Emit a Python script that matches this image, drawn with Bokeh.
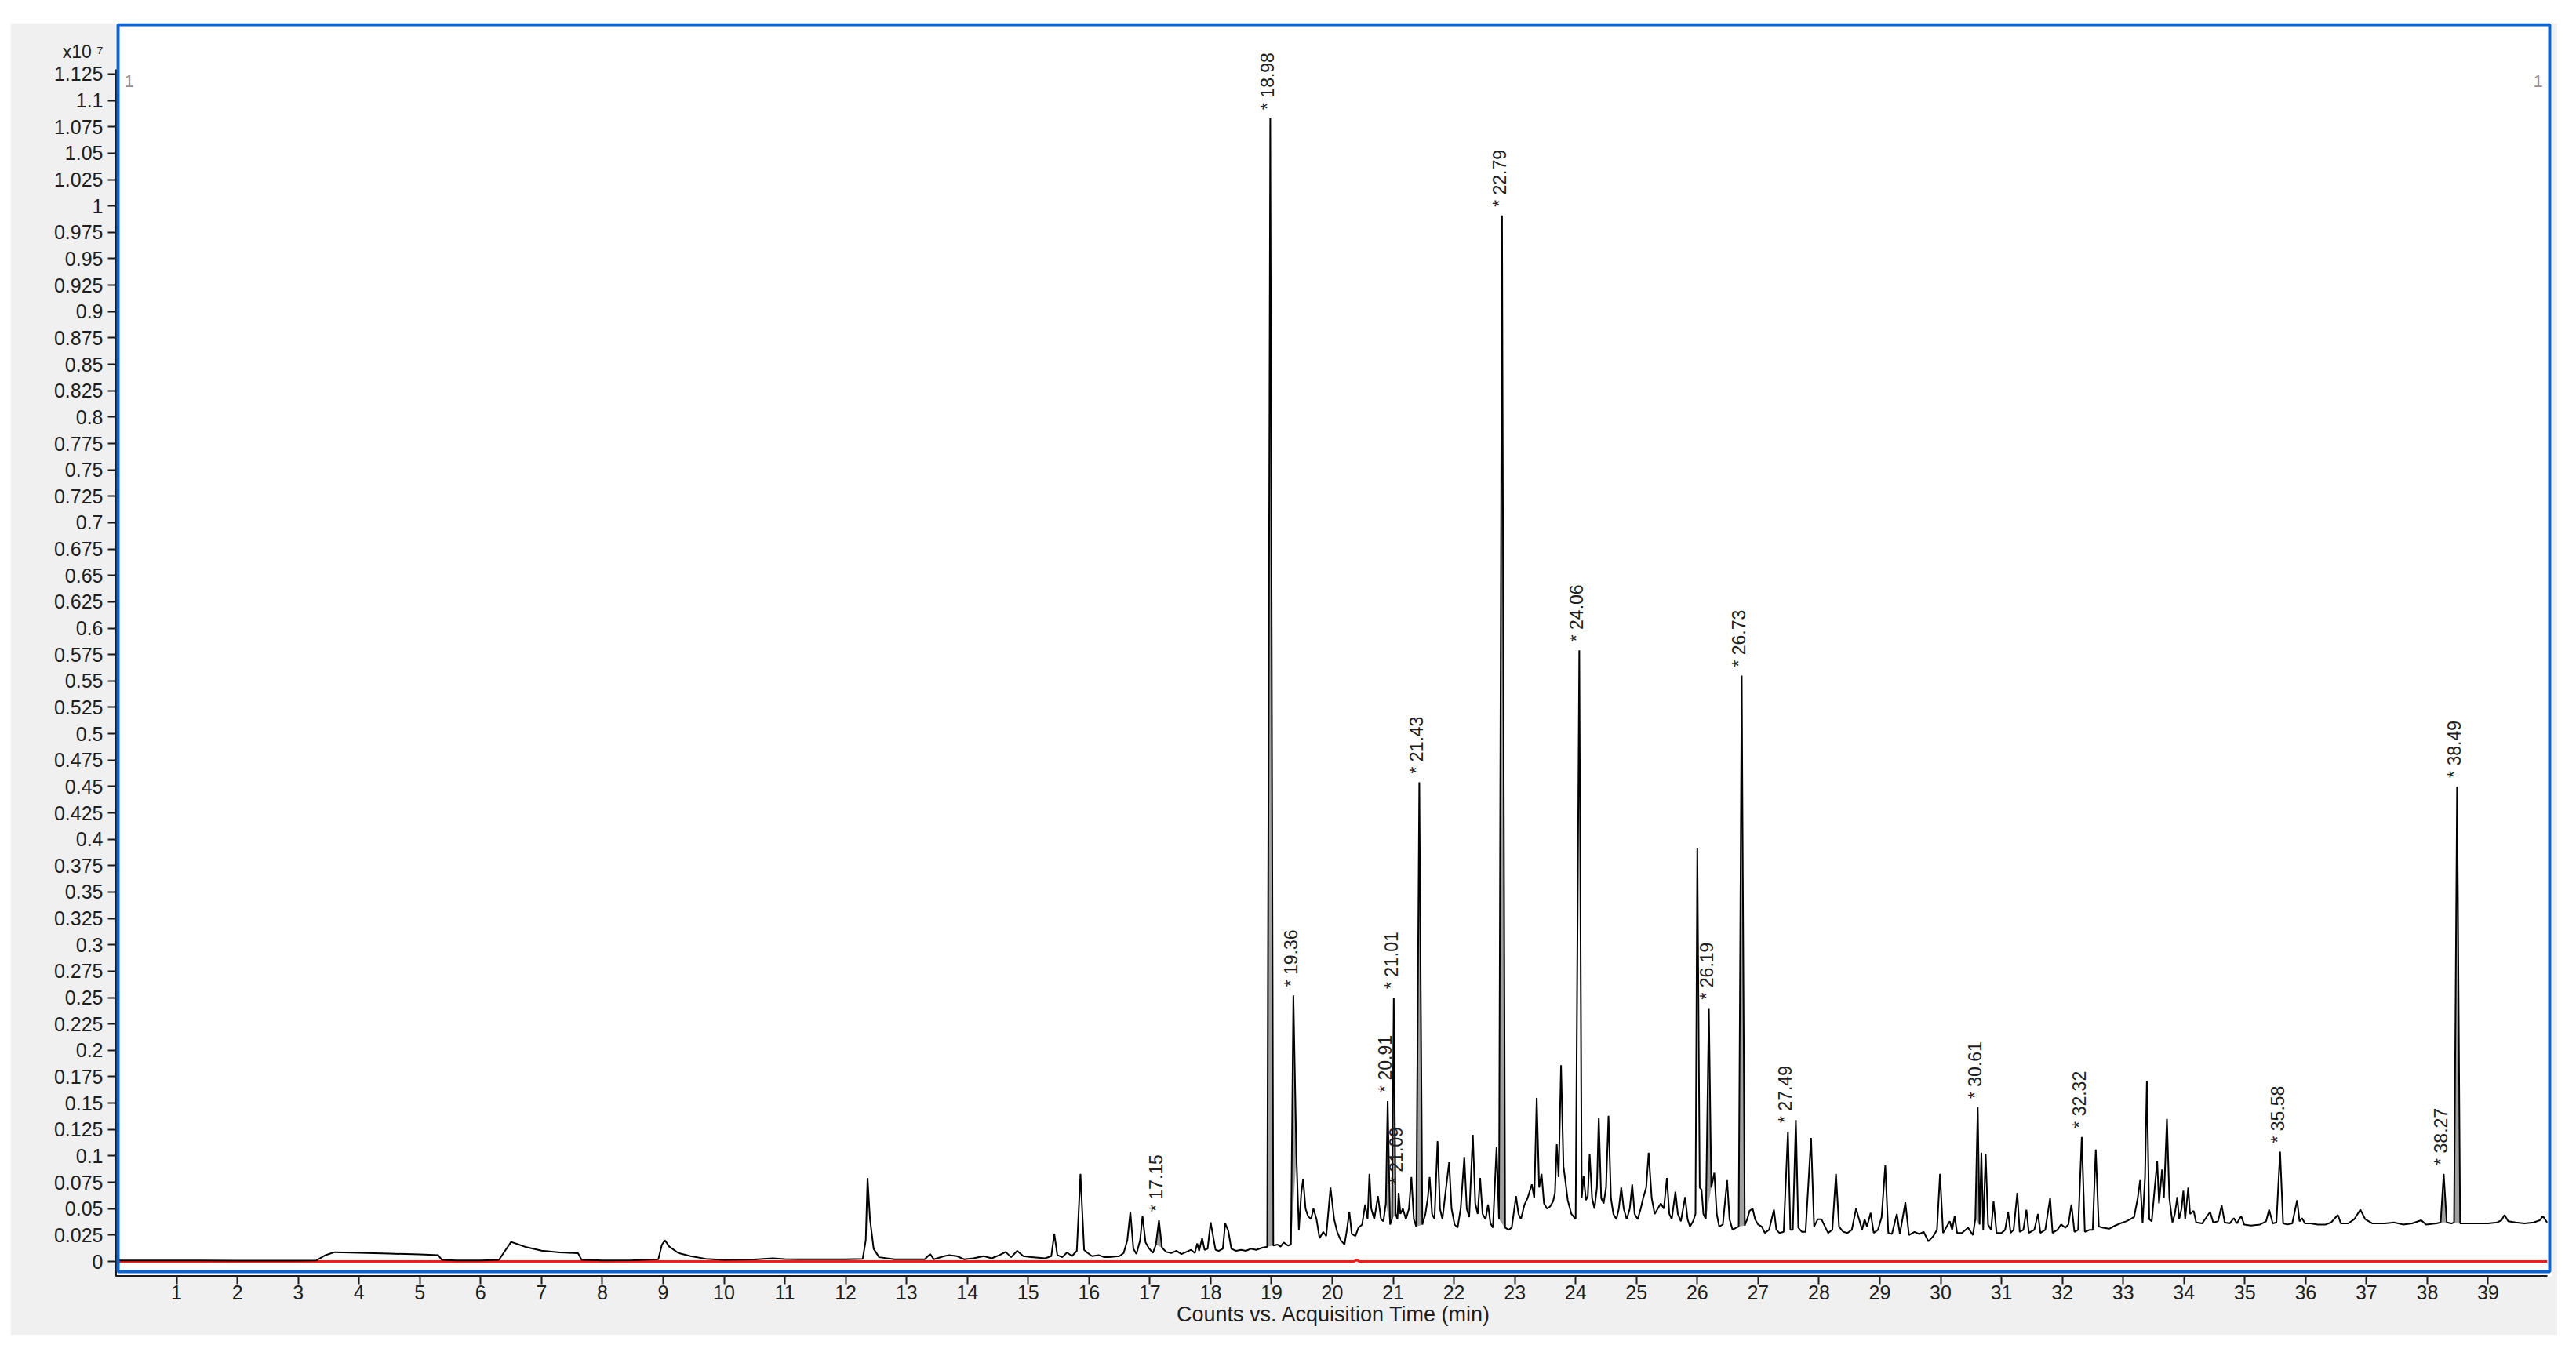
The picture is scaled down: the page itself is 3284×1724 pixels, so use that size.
import math
from bokeh.plotting import figure
from bokeh.models import ColumnDataSource, FixedTicker, Range1d, Label, BoxAnnotation
from bokeh.core.properties import value
from bokeh.embed import file_html
from bokeh.resources import INLINE

# ---------------- data (counts in units of 10^7) ----------------
time_min = [
    0.00, 1.00, 2.00, 3.00, 3.30, 3.45, 3.60, 4.00, 4.50, 5.00,
    5.30, 5.36, 5.60, 6.00, 6.30, 6.40, 6.50, 6.60, 6.75, 7.00,
    7.30, 7.60, 7.66, 8.00, 8.50, 8.92, 8.98, 9.03, 9.10, 9.25,
    9.45, 9.70, 10.00, 10.50, 10.80, 11.00, 11.50, 12.00, 12.28, 12.33,
    12.36, 12.40, 12.46, 12.55, 12.80, 13.30, 13.39, 13.45, 13.62, 13.70,
    13.83, 13.95, 14.10, 14.27, 14.40, 14.53, 14.63, 14.72, 14.82, 14.92,
    15.05, 15.28, 15.38, 15.43, 15.48, 15.56, 15.64, 15.72, 15.80, 15.86,
    15.92, 15.98, 16.05, 16.16, 16.25, 16.33, 16.50, 16.57, 16.63, 16.68,
    16.73, 16.78, 16.84, 16.88, 16.93, 16.98, 17.05, 17.10, 17.15, 17.20,
    17.27, 17.35, 17.44, 17.52, 17.60, 17.68, 17.74, 17.78, 17.81, 17.86,
    17.90, 17.95, 18.00, 18.04, 18.08, 18.13, 18.20, 18.24, 18.29, 18.34,
    18.42, 18.50, 18.58, 18.66, 18.75, 18.85, 18.93, 18.98, 19.03, 19.10,
    19.15, 19.20, 19.27, 19.32, 19.36, 19.41, 19.45, 19.49, 19.52, 19.56,
    19.60, 19.65, 19.69, 19.74, 19.79, 19.85, 19.90, 19.97, 20.03, 20.08,
    20.14, 20.20, 20.24, 20.28, 20.32, 20.38, 20.43, 20.49, 20.54, 20.58,
    20.61, 20.64, 20.69, 20.75, 20.80, 20.84, 20.88, 20.91, 20.95, 20.98,
    21.01, 21.04, 21.07, 21.09, 21.12, 21.16, 21.21, 21.26, 21.30, 21.34,
    21.38, 21.43, 21.48, 21.53, 21.57, 21.60, 21.64, 21.68, 21.73, 21.77,
    21.81, 21.86, 21.92, 21.96, 22.01, 22.06, 22.11, 22.17, 22.21, 22.25,
    22.31, 22.35, 22.39, 22.43, 22.47, 22.52, 22.56, 22.60, 22.64, 22.70,
    22.74, 22.79, 22.84, 22.90, 22.95, 23.02, 23.06, 23.10, 23.16, 23.21,
    23.28, 23.32, 23.36, 23.40, 23.44, 23.48, 23.53, 23.58, 23.63, 23.66,
    23.69, 23.72, 23.76, 23.80, 23.83, 23.87, 23.93, 24.00, 24.06, 24.10,
    24.13, 24.17, 24.20, 24.23, 24.27, 24.31, 24.35, 24.38, 24.42, 24.46,
    24.50, 24.54, 24.58, 24.62, 24.67, 24.71, 24.75, 24.79, 24.84, 24.89,
    24.93, 24.97, 25.02, 25.07, 25.11, 25.16, 25.20, 25.25, 25.30, 25.35,
    25.40, 25.45, 25.50, 25.54, 25.58, 25.64, 25.68, 25.73, 25.80, 25.84,
    25.88, 25.93, 25.97, 26.00, 26.04, 26.07, 26.10, 26.14, 26.19, 26.23,
    26.28, 26.32, 26.36, 26.42, 26.49, 26.53, 26.58, 26.64, 26.68, 26.73,
    26.78, 26.82, 26.86, 26.91, 26.95, 27.00, 27.06, 27.11, 27.18, 27.26,
    27.30, 27.35, 27.42, 27.49, 27.53, 27.57, 27.62, 27.66, 27.72, 27.78,
    27.87, 27.92, 27.98, 28.04, 28.10, 28.15, 28.22, 28.28, 28.33, 28.40,
    28.47, 28.54, 28.61, 28.66, 28.71, 28.75, 28.79, 28.85, 28.90, 28.97,
    29.03, 29.09, 29.14, 29.20, 29.28, 29.33, 29.42, 29.48, 29.57, 29.65,
    29.72, 29.80, 29.88, 29.94, 29.99, 30.04, 30.10, 30.15, 30.19, 30.23,
    30.27, 30.35, 30.45, 30.53, 30.57, 30.61, 30.64, 30.67, 30.70, 30.74,
    30.78, 30.83, 30.87, 30.92, 31.00, 31.06, 31.11, 31.15, 31.20, 31.26,
    31.30, 31.36, 31.41, 31.45, 31.54, 31.60, 31.64, 31.72, 31.80, 31.84,
    31.92, 31.98, 32.05, 32.10, 32.15, 32.20, 32.26, 32.32, 32.37, 32.45,
    32.50, 32.55, 32.60, 32.67, 32.77, 32.87, 32.95, 33.05, 33.12, 33.18,
    33.24, 33.28, 33.32, 33.36, 33.39, 33.43, 33.47, 33.52, 33.56, 33.59,
    33.64, 33.67, 33.72, 33.76, 33.81, 33.85, 33.89, 33.92, 33.96, 33.99,
    34.02, 34.07, 34.10, 34.16, 34.20, 34.30, 34.43, 34.48, 34.56, 34.62,
    34.67, 34.75, 34.82, 34.87, 34.94, 34.99, 35.10, 35.25, 35.35, 35.40,
    35.46, 35.52, 35.58, 35.63, 35.70, 35.78, 35.86, 35.90, 35.94, 35.99,
    36.08, 36.20, 36.33, 36.42, 36.53, 36.58, 36.70, 36.80, 36.90, 36.98,
    37.10, 37.30, 37.45, 37.60, 37.75, 37.90, 37.98, 38.15, 38.22, 38.27,
    38.32, 38.40, 38.44, 38.49, 38.54, 38.65, 38.80, 39.00, 39.15, 39.22,
    39.27, 39.33, 39.45, 39.60, 39.75, 39.85, 39.90, 39.97,
]
counts_e7 = [
    0.001, 0.001, 0.0008, 0.0008, 0.001, 0.006, 0.0088, 0.0082, 0.0074, 0.0066,
    0.0060, 0.0015, 0.001, 0.001, 0.0015, 0.010, 0.0185, 0.0165, 0.0135, 0.0102,
    0.0085, 0.0078, 0.0015, 0.001, 0.0012, 0.002, 0.016, 0.020, 0.014, 0.008,
    0.005, 0.0025, 0.0015, 0.0018, 0.003, 0.0022, 0.002, 0.002, 0.0025, 0.020,
    0.079, 0.040, 0.012, 0.004, 0.002, 0.002, 0.007, 0.002, 0.005, 0.006,
    0.005, 0.002, 0.003, 0.005, 0.003, 0.006, 0.009, 0.004, 0.010, 0.005,
    0.004, 0.003, 0.005, 0.026, 0.006, 0.004, 0.0086, 0.005, 0.010, 0.083,
    0.011, 0.008, 0.005, 0.006, 0.004, 0.004, 0.005, 0.008, 0.020, 0.047,
    0.012, 0.007, 0.020, 0.043, 0.018, 0.013, 0.008, 0.016, 0.039, 0.013,
    0.009, 0.008, 0.010, 0.007, 0.009, 0.011, 0.008, 0.017, 0.010, 0.022,
    0.011, 0.012, 0.037, 0.024, 0.011, 0.010, 0.012, 0.036, 0.029, 0.012,
    0.010, 0.011, 0.010, 0.012, 0.011, 0.013, 0.014, 1.083, 0.015, 0.016,
    0.014, 0.018, 0.015, 0.016, 0.252, 0.100, 0.030, 0.065, 0.078, 0.050,
    0.043, 0.040, 0.050, 0.040, 0.022, 0.028, 0.024, 0.070, 0.040, 0.028,
    0.020, 0.016, 0.030, 0.047, 0.026, 0.024, 0.032, 0.035, 0.054, 0.040,
    0.083, 0.050, 0.040, 0.062, 0.040, 0.038, 0.055, 0.152, 0.035, 0.040,
    0.250, 0.045, 0.040, 0.065, 0.045, 0.050, 0.040, 0.050, 0.080, 0.040,
    0.033, 0.454, 0.035, 0.045, 0.060, 0.080, 0.045, 0.040, 0.114, 0.050,
    0.040, 0.065, 0.094, 0.050, 0.035, 0.032, 0.050, 0.099, 0.050, 0.042,
    0.120, 0.055, 0.045, 0.079, 0.045, 0.040, 0.054, 0.036, 0.032, 0.108,
    0.040, 0.991, 0.032, 0.030, 0.032, 0.062, 0.045, 0.040, 0.054, 0.060,
    0.073, 0.060, 0.155, 0.070, 0.083, 0.055, 0.050, 0.052, 0.057, 0.065,
    0.111, 0.080, 0.186, 0.090, 0.077, 0.058, 0.045, 0.040, 0.579, 0.060,
    0.081, 0.058, 0.062, 0.102, 0.060, 0.050, 0.070, 0.136, 0.060, 0.055,
    0.070, 0.138, 0.060, 0.045, 0.040, 0.050, 0.070, 0.050, 0.040, 0.050,
    0.073, 0.045, 0.040, 0.050, 0.060, 0.070, 0.103, 0.060, 0.045, 0.050,
    0.055, 0.050, 0.079, 0.045, 0.040, 0.066, 0.045, 0.038, 0.061, 0.040,
    0.033, 0.038, 0.045, 0.392, 0.070, 0.068, 0.045, 0.040, 0.240, 0.070,
    0.084, 0.045, 0.033, 0.035, 0.077, 0.040, 0.030, 0.032, 0.033, 0.555,
    0.034, 0.040, 0.048, 0.050, 0.040, 0.035, 0.033, 0.027, 0.030, 0.049,
    0.030, 0.027, 0.028, 0.123, 0.030, 0.030, 0.134, 0.032, 0.028, 0.028,
    0.117, 0.033, 0.040, 0.040, 0.033, 0.027, 0.030, 0.083, 0.033, 0.028,
    0.027, 0.030, 0.050, 0.040, 0.030, 0.040, 0.033, 0.046, 0.027, 0.030,
    0.042, 0.091, 0.027, 0.026, 0.045, 0.026, 0.056, 0.025, 0.028, 0.026,
    0.028, 0.019, 0.024, 0.030, 0.083, 0.027, 0.033, 0.038, 0.030, 0.043,
    0.027, 0.027, 0.032, 0.025, 0.040, 0.146, 0.035, 0.103, 0.030, 0.102,
    0.035, 0.030, 0.057, 0.027, 0.027, 0.030, 0.047, 0.027, 0.030, 0.065,
    0.028, 0.030, 0.049, 0.027, 0.030, 0.045, 0.027, 0.030, 0.060, 0.027,
    0.030, 0.035, 0.032, 0.035, 0.054, 0.028, 0.030, 0.118, 0.028, 0.030,
    0.030, 0.106, 0.033, 0.032, 0.031, 0.034, 0.036, 0.038, 0.040, 0.042,
    0.060, 0.077, 0.036, 0.080, 0.171, 0.040, 0.038, 0.070, 0.095, 0.055,
    0.087, 0.060, 0.135, 0.060, 0.037, 0.045, 0.061, 0.040, 0.050, 0.067,
    0.040, 0.070, 0.045, 0.048, 0.037, 0.036, 0.047, 0.037, 0.038, 0.053,
    0.037, 0.036, 0.041, 0.036, 0.043, 0.035, 0.034, 0.035, 0.038, 0.049,
    0.036, 0.037, 0.104, 0.036, 0.035, 0.036, 0.058, 0.038, 0.041, 0.036,
    0.036, 0.035, 0.035, 0.037, 0.044, 0.036, 0.036, 0.040, 0.049, 0.040,
    0.036, 0.036, 0.037, 0.035, 0.036, 0.039, 0.035, 0.036, 0.037, 0.083,
    0.037, 0.036, 0.037, 0.450, 0.036, 0.036, 0.036, 0.036, 0.037, 0.039,
    0.044, 0.038, 0.037, 0.036, 0.037, 0.039, 0.043, 0.037,
]

# second (red) trace: flat baseline with a tiny blip
red_time = [0.00, 20.36, 20.40, 20.44, 39.97]
red_counts = [0.0, 0.0, 0.0015, 0.0, 0.0]

# labelled (integrated) peaks
peak_rt = [17.15, 18.98, 19.36, 20.91, 21.01, 21.09, 21.43, 22.79, 24.06,
           26.19, 26.73, 27.49, 30.61, 32.32, 35.58, 38.27, 38.49]
peak_labels = ["17.15", "18.98", "19.36", "20.91", "21.01", "21.09", "21.43", "22.79", "24.06",
               "26.19", "26.73", "27.49", "30.61", "32.32", "35.58", "38.27", "38.49"]

x_tick_labels = ["1", "2", "3", "4", "5", "6", "7", "8", "9", "10", "11", "12", "13",
                 "14", "15", "16", "17", "18", "19", "20", "21", "22", "23", "24", "25",
                 "26", "27", "28", "29", "30", "31", "32", "33", "34", "35", "36", "37",
                 "38", "39"]
y_tick_labels = ["0", "0.025", "0.05", "0.075", "0.1", "0.125", "0.15", "0.175", "0.2",
                 "0.225", "0.25", "0.275", "0.3", "0.325", "0.35", "0.375", "0.4", "0.425",
                 "0.45", "0.475", "0.5", "0.525", "0.55", "0.575", "0.6", "0.625", "0.65",
                 "0.675", "0.7", "0.725", "0.75", "0.775", "0.8", "0.825", "0.85", "0.875",
                 "0.9", "0.925", "0.95", "0.975", "1", "1.025", "1.05", "1.075", "1.1",
                 "1.125"]
y_exponent_label = "x10 \u2077"

# ---------------- layout constants ----------------
LEFT_PANEL = 132           # y-axis + exponent label panel width (measured)
FIG_LEFT = 145 - LEFT_PANEL
FIG_W, FIG_H = 3260 - FIG_LEFT, 1673
PX_PER_MIN = 77.6          # horizontal scale
PX_PER_UNIT = 1345.8       # vertical scale (per 1e7 counts)
FRAME_W = 3108
FRAME_H = 1598
X_START, X_END = 0.0, FRAME_W / PX_PER_MIN
Y_START = -19 / PX_PER_UNIT
Y_END = Y_START + FRAME_H / PX_PER_UNIT

AXIS_FONT = "'Liberation Sans', Arial, sans-serif"
TEXT_DARK = "#1e1e1e"

p = figure(width=FIG_W, height=FIG_H, output_backend="svg", toolbar_location=None,
           x_range=Range1d(X_START, X_END), y_range=Range1d(Y_START, Y_END),
           min_border_left=LEFT_PANEL, min_border_right=7, min_border_top=0,
           min_border_bottom=75)
p.margin = (29, 0, 0, FIG_LEFT)
p.border_fill_color = "#f0f0f0"
p.background_fill_color = "#ffffff"
p.outline_line_color = None
p.xgrid.visible = False
p.ygrid.visible = False

# axes
p.xaxis.ticker = FixedTicker(ticks=[int(s) for s in x_tick_labels])
p.yaxis.ticker = FixedTicker(ticks=[float(s) for s in y_tick_labels])
p.yaxis.major_label_overrides = {float(s): s for s in y_tick_labels}
for ax in (p.xaxis[0], p.yaxis[0]):
    ax.axis_line_color = "#1a1a1a"
    ax.axis_line_width = 3
    ax.major_tick_line_color = "#1a1a1a"
    ax.major_tick_line_width = 2
    ax.major_tick_in = 0
    ax.major_tick_out = 10
    ax.minor_tick_line_color = None
    ax.major_label_text_font = AXIS_FONT
    ax.major_label_text_font_size = "25px"
    ax.major_label_text_color = TEXT_DARK
p.yaxis.major_label_standoff = 6
p.yaxis.bounds = (Y_START, (1608 - 88) / PX_PER_UNIT)
p.xaxis.bounds = (0, 39.97)
p.xaxis.major_label_standoff = 1
p.xaxis.axis_label = "Counts vs. Acquisition Time (min)"
p.xaxis.axis_label_text_font = AXIS_FONT
p.xaxis.axis_label_text_font_size = "27px"
p.xaxis.axis_label_text_font_style = "normal"
p.xaxis.axis_label_text_color = TEXT_DARK
p.xaxis.axis_label_standoff = 1

# red trace
p.line(red_time, red_counts, line_color="#ff1a1a", line_width=3)

# integrated peak fills
fill_xs, fill_ys, lab_x, lab_y = [], [], [], []
for rt in peak_rt:
    idx = [i for i, t in enumerate(time_min) if abs(t - rt) <= 0.051]
    xs = [time_min[i] for i in idx]
    ys = [counts_e7[i] for i in idx]
    fill_xs.append(xs)
    fill_ys.append(ys)
    lab_x.append(rt - 3 / PX_PER_MIN)
    lab_y.append(max(ys) + 11 / PX_PER_UNIT)
p.patches(fill_xs, fill_ys, fill_color="#a0a0a0", line_color=None)

# main chromatogram
src = ColumnDataSource(dict(t=time_min, c=counts_e7))
p.line("t", "c", source=src, line_color="#000000", line_width=2)

# peak labels
lab_src = ColumnDataSource(dict(x=lab_x, y=lab_y, txt=["* " + s for s in peak_labels]))
p.text("x", "y", text="txt", source=lab_src, angle=math.pi / 2,
       text_align="left", text_baseline="middle",
       text_font=value("Liberation Sans"), text_font_size=value("23px"),
       text_color=TEXT_DARK)

# blue plot border
p.add_layout(BoxAnnotation(left=3 / PX_PER_MIN, right=(3250 - 145) / PX_PER_MIN,
                           bottom=-13 / PX_PER_UNIT, top=(1608 - 31) / PX_PER_UNIT,
                           fill_color=None, fill_alpha=0, line_color="#0a64d2",
                           line_alpha=1.0, line_width=4, level="overlay"))

# corner markers
p.add_layout(Label(x=(156 - 145) / PX_PER_MIN, y=(1608 - 103) / PX_PER_UNIT, text="1",
                   text_align="left", text_baseline="middle", text_font="Liberation Sans",
                   text_font_size="22px", text_color="#9a8a8a"))
p.add_layout(Label(x=(3235 - 145) / PX_PER_MIN, y=(1608 - 103) / PX_PER_UNIT, text="1",
                   text_align="center", text_baseline="middle", text_font="Liberation Sans",
                   text_font_size="22px", text_color="#9a8a8a"))

# exponent marker left of the frame (in the side panel so it is not clipped)
p.add_layout(Label(x=(129 - 145) / PX_PER_MIN, y=(1608 - 65) / PX_PER_UNIT,
                   text=y_exponent_label, text_align="right", text_baseline="middle",
                   text_font="Liberation Sans", text_font_size="23px",
                   text_color=TEXT_DARK), "left")

open("out.html", "w").write(file_html(p, INLINE))
